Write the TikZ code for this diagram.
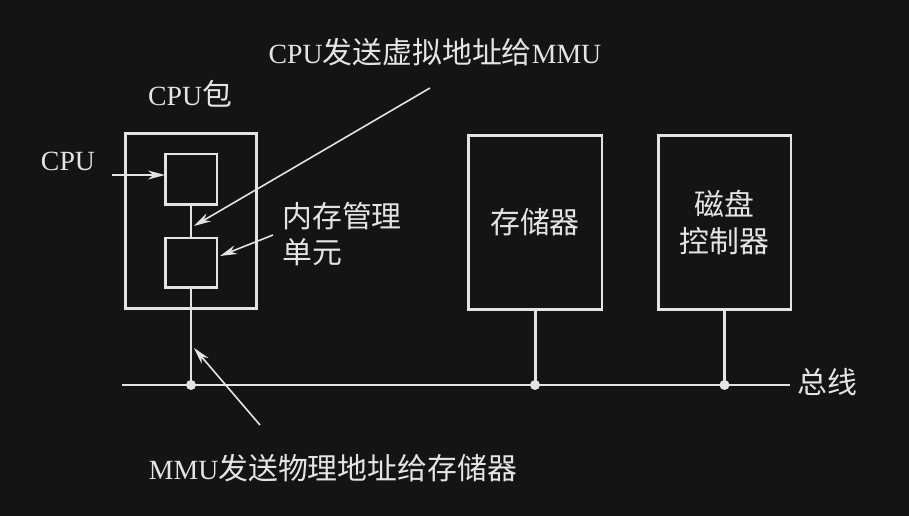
\documentclass[tikz,border=0pt]{standalone}
\usepackage{fontspec}
\setmainfont[Scale=0.93]{Liberation Serif}
\newfontfamily\cjk{Noto Sans CJK SC}
\usepackage{tikz}
\usetikzlibrary{arrows.meta, positioning, calc, backgrounds}
\definecolor{bgdark}{RGB}{20,20,20}
\definecolor{chalk}{RGB}{228,228,228}

\begin{document}
\begin{tikzpicture}[
    x=0.02cm, y=-0.02cm,
    every node/.style={text=chalk, inner sep=0pt, font=\fontsize{17}{20.5}\selectfont},
    unitbox/.style={draw=chalk, line width=1.7pt, outer sep=0pt},
    wire/.style={draw=chalk, line width=1.7pt},
    pointer/.style={draw=chalk, line width=0.9pt, -{Stealth[length=0.34cm, width=0.18cm]}},
    joint/.style={circle, fill=chalk, minimum size=0.2cm}
]
% Dark page
\fill[bgdark] (0,0) rectangle (909,516);
\useasboundingbox (0,0) rectangle (909,516);

% CPU package with CPU and MMU
\node[unitbox, minimum width=2.64cm, minimum height=3.52cm] (pkg) at (191,221) {};
\node[unitbox, minimum width=1.04cm, minimum height=1.02cm] (cpu) at (191,179.5) {};
\node[unitbox, minimum width=1.04cm, minimum height=1.0cm] (mmu) at (191,263) {};
\draw[wire] (cpu.south) -- (mmu.north);

% Memory and disk controller
\node[unitbox, minimum width=2.68cm, minimum height=3.5cm, font=\fontsize{17}{20.5}\selectfont\cjk] (mem) at (535,222.5) {存储器};
\node[unitbox, minimum width=2.66cm, minimum height=3.5cm, align=center, font=\fontsize{17}{20.5}\selectfont\cjk] (disk) at (724.5,222.5) {磁盘\\控制器};

% Bus
\coordinate (busL) at (122,385);
\coordinate (busR) at (790,385);
\draw[wire] (busL) -- (busR);
\node[joint] (j1) at (mmu.south |- busL) {};
\node[joint] (j2) at (mem.south |- busL) {};
\node[joint] (j3) at (disk.south |- busL) {};
\draw[wire] (mmu.south) -- (j1.center);
\draw[wire] (mem.south) -- (j2.center);
\draw[wire] (disk.south) -- (j3.center);
\node[anchor=west, font=\fontsize{17}{20.5}\selectfont\cjk] (buslabel) at (797,382) {总线};

% Labels
\node (pkglabel) at (190,94) {CPU{\cjk 包}};
\node (cpulabel) at (68,161) {CPU};
\node (vlabel) at (435,52) {CPU{\cjk 发送虚拟地址给}MMU};
\node[anchor=west, align=left, font=\fontsize{17}{20.5}\selectfont\cjk] (mmulabel) at (282,234) {内存管理\\单元};
\node (plabel) at (333,468) {MMU{\cjk 发送物理地址给存储器}};

% Pointers
\coordinate (cputail) at (112,175);
\draw[pointer] (cputail) -- (cputail -| cpu.west);
\coordinate (vtail) at (430,88);
\coordinate (vhead) at (194,226);
\draw[pointer] (vtail) -- (vhead);
\coordinate (mmutail) at (273,235);
\coordinate (mmuhead) at (220,256);
\draw[pointer] (mmutail) -- (mmuhead);
\coordinate (ptail) at (260,425);
\coordinate (phead) at (194,348);
\draw[pointer] (ptail) -- (phead);
\end{tikzpicture}
\end{document}
